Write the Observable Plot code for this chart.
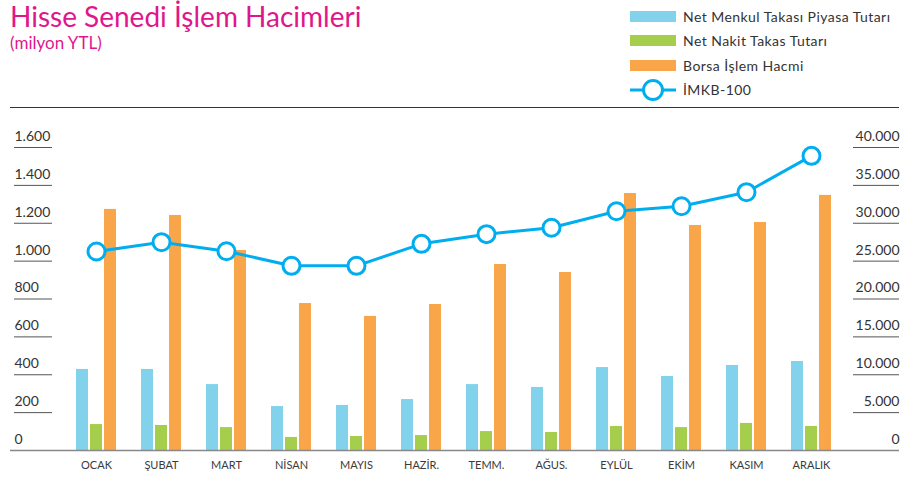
<!DOCTYPE html>
<html>
<head>
<meta charset="utf-8">
<script src="https://cdn.jsdelivr.net/npm/d3@7"></script>
<script src="https://cdn.jsdelivr.net/npm/@observablehq/plot@0.6"></script>
<style>
  body { margin: 0; background: #fff; font-family: Lato, "Open Sans", sans-serif; }
  #wrap { position: relative; width: 923px; height: 487px; overflow: hidden; }
  #chart { position: absolute; left: 0; top: 0; }
  .title { position: absolute; left: 10px; top: 1px; font-size: 28px; line-height: 30px; color: #e0168c; white-space: nowrap; }
  .subtitle { position: absolute; left: 10px; top: 34px; font-size: 17px; line-height: 17px; color: #e0168c; white-space: nowrap; }
  .rule { position: absolute; left: 10px; top: 107px; width: 889px; border-top: 1.5px solid #333; }
  .legend { position: absolute; left: 630px; top: 4.5px; }
  .legend .row { display: flex; align-items: center; height: 24.3px; }
  .legend .sw { width: 46px; height: 11px; }
  .legend .lab { margin-left: 7px; font-size: 14px; letter-spacing: 0.45px; color: #333; white-space: nowrap; }
</style>
</head>
<body>
<div id="wrap">
  <div id="chart"></div>
  <div class="title">Hisse Senedi İşlem Hacimleri</div>
  <div class="subtitle">(milyon YTL)</div>
  <div class="legend" id="legend"></div>
  <div class="rule"></div>
</div>
<script>
const months = ["OCAK","ŞUBAT","MART","NİSAN","MAYIS","HAZİR.","TEMM.","AĞUS.","EYLÜL","EKİM","KASIM","ARALIK"];
const netMenkul = [428,428,348,232,238,269,348,333,438,391,449,470];
const netNakit = [137,132,121,69,74,79,100,95,127,121,143,127];
const borsa = [1273,1241,1056,776,708,771,982,940,1357,1188,1204,1347];
const imkb = [26270,27500,26310,24380,24380,27280,28560,29400,31590,32250,34100,38900];
const leftTicks = [0,200,400,600,800,1000,1200,1400,1600];
const rightTicks = [0,5000,10000,15000,20000,25000,30000,35000,40000];
const seriesNames = ["Net Menkul Takası Piyasa Tutarı","Net Nakit Takas Tutarı","Borsa İşlem Hacmi","İMKB-100"];
const colors = ["#81d2ea","#a5ce4c","#f9a54a","#00aeef"];

const ratio = 40000 / 1600;
const fmt = d3.formatLocale({decimal: ",", thousands: ".", grouping: [3], currency: ["", ""]}).format(",");

const data = months.map((m, i) => ({month: m, netMenkul: netMenkul[i], netNakit: netNakit[i], borsa: borsa[i], imkb: imkb[i]}));

const chart = Plot.plot({
  width: 923,
  height: 487,
  marginLeft: 14,
  marginRight: 24,
  marginTop: 147,
  marginBottom: 37,
  style: {fontFamily: "Lato, 'Open Sans', sans-serif", fontSize: "13px", background: "transparent"},
  x: {type: "band", domain: months, range: [61.4, 844.6], paddingInner: 0.816, paddingOuter: 0.408, axis: null},
  y: {domain: [0, 1600], axis: null},
  marks: [
    Plot.ruleY(leftTicks.filter(d => d > 0), {y: d => d, stroke: "#555", strokeWidth: 1, insetRight: 847}),
    Plot.ruleY(rightTicks.filter(d => d > 0), {y: d => d / ratio, stroke: "#555", strokeWidth: 1, insetLeft: 839}),
    Plot.text(leftTicks, {y: d => d, text: d => fmt(d), frameAnchor: "left", textAnchor: "start", dy: -11, fill: "#333", fontSize: 14, style: "letter-spacing:0.5px"}),
    Plot.text(rightTicks, {y: d => d / ratio, text: d => fmt(d), frameAnchor: "right", textAnchor: "end", dy: -11, fill: "#333", fontSize: 14, style: "letter-spacing:0.5px"}),
    Plot.barY(data, {x: "month", y: "netMenkul", fill: colors[0], dx: -14}),
    Plot.barY(data, {x: "month", y: "netNakit", fill: colors[1]}),
    Plot.barY(data, {x: "month", y: "borsa", fill: colors[2], dx: 14}),
    Plot.ruleY([0], {stroke: "#888", strokeWidth: 1.5, insetLeft: -4}),
    Plot.line(data, {x: "month", y: d => d.imkb / ratio, stroke: colors[3], strokeWidth: 3}),
    Plot.dot(data, {x: "month", y: d => d.imkb / ratio, r: 8.5, fill: "white", stroke: colors[3], strokeWidth: 3}),
    Plot.text(data, {x: "month", text: "month", frameAnchor: "bottom", dy: 18, fill: "#3a3a3a", fontSize: 11, style: "letter-spacing:1px"})
  ]
});
chart.querySelectorAll("text").forEach(t => { if (t.getAttribute("style") == null) {} });
document.getElementById("chart").appendChild(chart);

const legend = document.getElementById("legend");
seriesNames.forEach((name, i) => {
  const row = document.createElement("div");
  row.className = "row";
  if (i < 3) {
    const sw = document.createElement("div");
    sw.className = "sw";
    sw.style.background = colors[i];
    row.appendChild(sw);
  } else {
    const ns = "http://www.w3.org/2000/svg";
    const svg = document.createElementNS(ns, "svg");
    svg.setAttribute("width", 46); svg.setAttribute("height", 24);
    const ln = document.createElementNS(ns, "line");
    ln.setAttribute("x1", 0); ln.setAttribute("x2", 46); ln.setAttribute("y1", 12); ln.setAttribute("y2", 12);
    ln.setAttribute("stroke", colors[3]); ln.setAttribute("stroke-width", 3);
    const c = document.createElementNS(ns, "circle");
    c.setAttribute("cx", 23); c.setAttribute("cy", 12); c.setAttribute("r", 9.5);
    c.setAttribute("fill", "white"); c.setAttribute("stroke", colors[3]); c.setAttribute("stroke-width", 3);
    svg.appendChild(ln); svg.appendChild(c);
    row.appendChild(svg);
  }
  const lab = document.createElement("div");
  lab.className = "lab";
  lab.textContent = name;
  row.appendChild(lab);
  legend.appendChild(row);
});
</script>
</body>
</html>
